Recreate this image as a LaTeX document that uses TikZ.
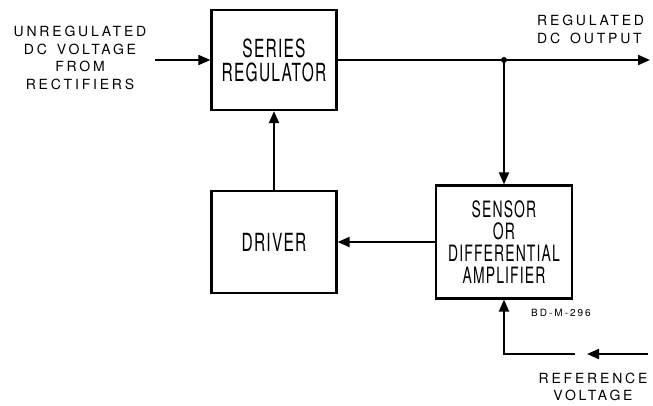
\documentclass[tikz,border=0pt]{standalone}
\usepackage{fontspec}
\usetikzlibrary{arrows.meta}
\newfontfamily\boxfont[FakeStretch=0.62, LetterSpace=5]{TeX Gyre Heros}
\newfontfamily\lblfont[LetterSpace=20]{TeX Gyre Heros}

\begin{document}
\begin{tikzpicture}[x=1pt, y=-1pt,
        blockbox/.style={draw, line width=2.2pt, minimum width=125pt, minimum height=100pt, inner sep=0pt, align=center, font=\boxfont\fontsize{25}{24}\selectfont},
        lbl/.style={inner sep=0pt, align=center, font=\lblfont\fontsize{14}{17.5}\selectfont},
        wire/.style={line width=2pt},
        link/.style={wire, -{Triangle[length=12pt,width=10pt]}}
    ]
        \useasboundingbox (0,0) rectangle (653,405);

        % Blocks
        \node[blockbox] (series) at (274,60) {SERIES\\REGULATOR};
        \node[blockbox, minimum height=102pt] (driver) at (274,242) {DRIVER};
        \node[blockbox, minimum width=136pt, minimum height=113pt, font=\boxfont\fontsize{22.5}{22}\selectfont] (sensor) at (504,242) {SENSOR\\OR\\DIFFERENTIAL\\AMPLIFIER};

        % Labels
        \node[lbl] (inlbl) at (80,58) {UNREGULATED\\DC\hspace{10pt}VOLTAGE\\FROM\\RECTIFIERS};
        \node[lbl, anchor=north west, align=left] (outlbl) at (537,15) {REGULATED\\DC\hspace{10pt}OUTPUT};
        \node[lbl] (reflbl) at (593,387) {REFERENCE\\VOLTAGE};
        \node[inner sep=0pt, font=\lblfont\fontsize{10}{10}\selectfont] (tag) at (561,313) {BD-M-296};

        % Free ends
        \coordinate (in) at (155,60);
        \coordinate (j) at (504,60);
        \coordinate (out) at (650,60);
        \coordinate (refin) at (648,354);
        \coordinate (reftip) at (587,354);
        \coordinate (refgap) at (575,354);

        % Signal paths
        \draw[link] (in) -- (series.west);
        \draw[wire] (series.east) -- (j);
        \draw[link] (j) -- (out);
        \fill (j) circle (3pt);
        \draw[link] (j) -- (sensor.north);
        \draw[link] (sensor.west) -- (driver.east);
        \draw[link] (driver.north) -- (series.south);
        \draw[link] (refin) -- (reftip);
        \draw[link] (refgap) -| (sensor.south);
    \end{tikzpicture}
\end{document}
